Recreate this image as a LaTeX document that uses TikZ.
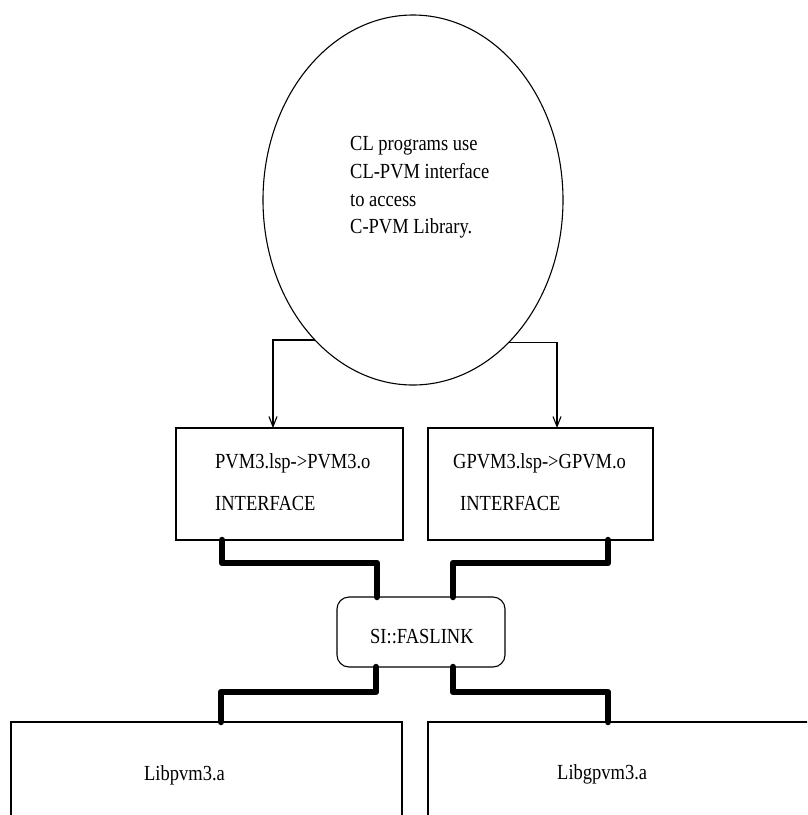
\documentclass[tikz,border=0pt]{standalone}
\usepackage{fontspec}
\setmainfont{Liberation Serif}[FakeStretch=0.86]
\usetikzlibrary{shapes.geometric,arrows.meta}

\tikzset{
  box/.style={draw, line width=1.1pt, rectangle, inner sep=0pt, outer sep=0pt},
  txt/.style={anchor=base west, inner sep=0pt, font=\fontsize{21.5}{28}\selectfont},
  feed/.style={draw, line width=1.1pt, -{Straight Barb[length=10pt,width=8pt,line width=1.1pt]}},
  bus/.style={draw, line width=6.5pt, line cap=round, line join=round}
}

\begin{document}
\begin{tikzpicture}[x=1pt,y=-1pt]
\useasboundingbox (0,0) rectangle (807,815);
\clip (0,0) rectangle (807,815);

% top ellipse with its description
\node[ellipse, draw, line width=1.1pt, minimum width=300pt, minimum height=370pt,
      inner sep=0pt, outer sep=0pt] (cl) at (413,200) {};
\node[txt] (cl1) at (350,150) {CL programs use};
\node[txt] (cl2) at (350,178) {CL-PVM interface};
\node[txt] (cl3) at (350,206) {to access};
\node[txt] (cl4) at (350,233) {C-PVM Library.};

% interface boxes
\node[box, minimum width=227pt, minimum height=112pt] (p1) at (289.5,484) {};
\node[box, minimum width=225pt, minimum height=112pt] (p2) at (540.5,484) {};
\node[txt] (p1a) at (215,468) {PVM3.lsp->PVM3.o};
\node[txt] (p1b) at (215,510) {INTERFACE};
\node[txt] (p2a) at (453,468) {GPVM3.lsp->GPVM.o};
\node[txt] (p2b) at (460,510) {INTERFACE};

% linker
\node[box, rounded corners=12pt, minimum width=168pt, minimum height=70pt] (fas) at (421,632) {};
\node[txt] (fast) at (370,643) {SI::FASLINK};

% libraries (running past the lower and right edges)
\node[box, minimum width=391pt, minimum height=108pt] (lib1) at (206.5,776) {};
\node[box, minimum width=402pt, minimum height=108pt] (lib2) at (629,776) {};
\node[txt] (lib1t) at (144,780) {Libpvm3.a};
\node[txt] (lib2t) at (557,779) {Libgpvm3.a};

% arrows from the ellipse to the interfaces
\draw[feed] (cl.235.9) -| ([xshift=97pt]p1.north west);
\draw[feed] (cl.304.1) -| ([xshift=129pt]p2.north west);

% heavy links through the linker
\draw[bus] ([xshift=46pt]p1.south west) -- ++(0,23) -| ([xshift=40pt]fas.north west);
\draw[bus] ([xshift=180pt]p2.south west) -- ++(0,23) -| ([xshift=116pt]fas.north west);
\draw[bus] ([xshift=39pt]fas.south west) -- ++(0,25) -| ([xshift=210pt]lib1.north west);
\draw[bus] ([xshift=116pt]fas.south west) -- ++(0,25) -| ([xshift=180pt]lib2.north west);
\end{tikzpicture}
\end{document}
